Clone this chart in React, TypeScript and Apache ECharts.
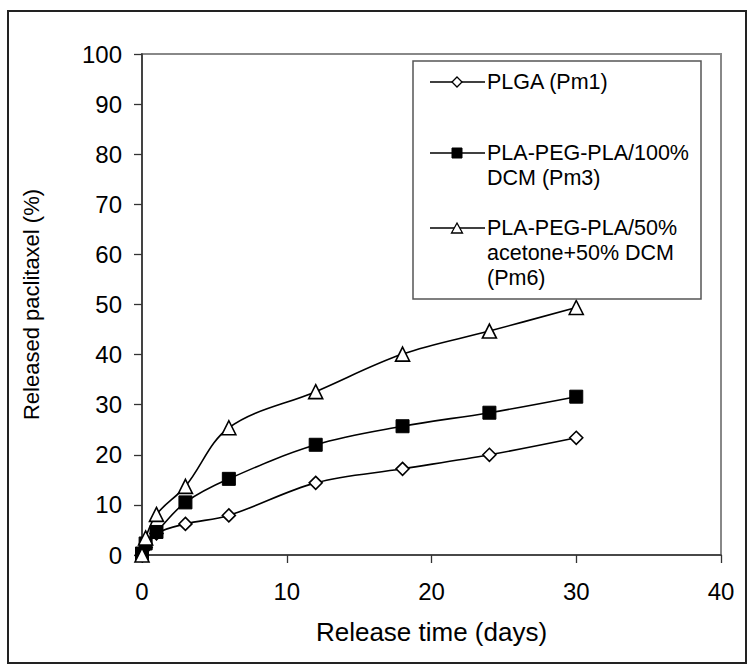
import React, { useEffect, useRef } from "react";
import * as echarts from "echarts";

const days = [0, 0.25, 1, 3, 6, 12, 18, 24, 30];
const pm1 = [0, 1.5, 4.3, 6.2, 7.9, 14.4, 17.2, 20.0, 23.4];
const pm3 = [0.3, 2.3, 4.6, 10.5, 15.2, 22.0, 25.7, 28.4, 31.6];
const pm6 = [0, 3.4, 8.1, 13.7, 25.4, 32.6, 40.1, 44.7, 49.4];

const seriesNames = [
  "PLGA (Pm1)",
  "PLA-PEG-PLA/100%\nDCM (Pm3)",
  "PLA-PEG-PLA/50%\nacetone+50% DCM\n(Pm6)",
];
const xTitle = "Release time (days)";
const yTitle = "Released paclitaxel (%)";

const FONT = "Liberation Sans, Arial, sans-serif";

export default function App() {
  const ref = useRef<HTMLDivElement>(null);
  useEffect(() => {
    if (!ref.current) return;
    const chart = echarts.init(ref.current, null, { renderer: "svg" });
    const pair = (arr: number[]) => days.map((d, i) => [d, arr[i]]);
    const lineStyle = { color: "#000", width: 1.6 };
    const legendY = [82, 153, 228];
    const legendSymbols: any[] = [
      {
        type: "polygon",
        shape: { points: [[457, 77], [462, 82], [457, 87], [452, 82]] },
        style: { fill: "#fff", stroke: "#000", lineWidth: 1.3 },
      },
      {
        type: "rect",
        shape: { x: 452, y: legendY[1] - 5, width: 10, height: 10 },
        style: { fill: "#000", stroke: "#000", lineWidth: 1 },
      },
      {
        type: "polygon",
        shape: { points: [[457, legendY[2] - 5], [462.5, legendY[2] + 5], [451.5, legendY[2] + 5]] },
        style: { fill: "#fff", stroke: "#000", lineWidth: 1.3 },
      },
    ];
    const graphic: any[] = [
      {
        type: "rect",
        shape: { x: 8, y: 11, width: 738, height: 652 },
        style: { fill: "none", stroke: "#222", lineWidth: 2 },
        z: 0,
      },
      {
        type: "rect",
        shape: { x: 413, y: 61, width: 288, height: 238 },
        style: { fill: "#fff", stroke: "#555", lineWidth: 1.5 },
        z: 10,
      },
    ];
    legendY.forEach((y, i) => {
      graphic.push({
        type: "line",
        shape: { x1: 430, y1: y, x2: 485, y2: y },
        style: { stroke: "#000", lineWidth: 1.6 },
        z: 11,
      });
      graphic.push({ ...legendSymbols[i], z: 12 });
      graphic.push({
        type: "text",
        x: 487,
        y: y - 12.5,
        z: 12,
        style: {
          text: seriesNames[i],
          font: `21.5px ${FONT}`,
          fill: "#000",
          lineHeight: 25,
          verticalAlign: "top",
          align: "left",
        },
      });
    });

    chart.setOption({
      animation: false,
      backgroundColor: "#fff",
      textStyle: { fontFamily: FONT },
      grid: {
        left: 142,
        right: 28,
        top: 54,
        bottom: 112,
        show: true,
        borderColor: "#888",
        borderWidth: 2,
        backgroundColor: "transparent",
      },
      legend: { show: false },
      xAxis: {
        type: "value",
        min: 0,
        max: 40,
        interval: 10,
        name: xTitle,
        nameLocation: "middle",
        nameGap: 64,
        nameTextStyle: { fontSize: 26, color: "#000", fontFamily: FONT },
        axisLine: { show: true, onZero: false, lineStyle: { color: "#333", width: 1.6 } },
        axisTick: { show: true, inside: false, length: 8, lineStyle: { color: "#333", width: 1.3 } },
        axisLabel: { fontSize: 24, color: "#000", margin: 24, fontFamily: FONT },
        splitLine: { show: false },
      },
      yAxis: {
        type: "value",
        min: 0,
        max: 100,
        interval: 10,
        name: yTitle,
        nameLocation: "middle",
        nameGap: 100,
        nameTextStyle: { fontSize: 22, color: "#000", fontFamily: FONT },
        axisLine: { show: true, onZero: false, lineStyle: { color: "#333", width: 1.6 } },
        axisTick: { show: true, inside: false, length: 8, lineStyle: { color: "#333", width: 1.3 } },
        axisLabel: { fontSize: 24, color: "#000", margin: 20, fontFamily: FONT },
        splitLine: { show: false },
      },
      graphic,
      series: [
        {
          name: "PLGA (Pm1)",
          type: "line",
          data: pair(pm1),
          smooth: 0.35,
          symbol: "diamond",
          symbolSize: 13,
          showAllSymbol: true,
          lineStyle,
          itemStyle: { color: "#fff", borderColor: "#000", borderWidth: 1.6 },
          z: 3,
        },
        {
          name: "PLA-PEG-PLA/100% DCM (Pm3)",
          type: "line",
          data: pair(pm3),
          smooth: 0.35,
          symbol: "rect",
          symbolSize: 13,
          showAllSymbol: true,
          lineStyle,
          itemStyle: { color: "#000", borderColor: "#000", borderWidth: 1 },
          z: 4,
        },
        {
          name: "PLA-PEG-PLA/50% acetone+50% DCM (Pm6)",
          type: "line",
          data: pair(pm6),
          smooth: 0.35,
          symbol: "triangle",
          symbolSize: 14,
          showAllSymbol: true,
          lineStyle,
          itemStyle: { color: "#fff", borderColor: "#000", borderWidth: 1.6 },
          z: 5,
        },
      ],
    });
    return () => chart.dispose();
  }, []);
  return (
    <div
      ref={ref}
      style={{ position: "fixed", left: 0, top: 0, width: 749, height: 667, background: "#fff" }}
    />
  );
}
